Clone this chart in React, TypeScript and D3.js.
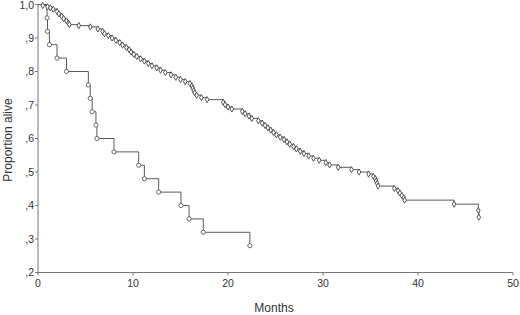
import React from "react";
import * as d3 from "d3";

const yTicks = [0.2, 0.3, 0.4, 0.5, 0.6, 0.7, 0.8, 0.9, 1.0];
const xTicks = [0, 10, 20, 30, 40, 50];

// Large group: event times (months) and survival after each event
const upperTimes = [
  0.5, 1.0, 1.3, 1.6, 2.0, 2.2, 2.5, 2.7, 3.0, 3.2, 3.3,
  4.3, 5.5, 6.3, 6.8, 7.0, 7.4, 7.8, 8.2, 8.6, 8.9, 9.3, 9.6, 9.8,
  10.1, 10.4, 10.8, 11.2, 11.6, 12.0, 12.5, 12.9, 13.4, 14.0, 14.5, 15.0, 15.5, 16.0,
  16.2, 16.3, 16.4, 16.5, 16.7, 17.2, 17.8,
  19.5, 19.7, 20.0, 20.4,
  21.5, 21.8, 22.2, 22.5, 23.2, 23.6, 23.9, 24.2, 24.5, 24.8, 25.1, 25.5, 25.9, 26.2, 26.5, 26.9,
  27.2, 27.6, 28.0, 28.5, 29.0, 29.6, 30.3, 30.7, 31.6, 33.0, 33.8, 34.8,
  35.3, 35.5, 35.6, 35.7, 35.8,
  37.5, 37.9, 38.1, 38.3, 38.5, 38.6,
  43.8, 46.35, 46.4,
];
const upperSurv = [
  0.997, 0.993, 0.99, 0.986, 0.979, 0.972, 0.965, 0.958, 0.951, 0.944, 0.94,
  0.937, 0.933, 0.927, 0.92, 0.913, 0.907, 0.9, 0.893, 0.886, 0.879, 0.872, 0.865, 0.858,
  0.851, 0.845, 0.838, 0.831, 0.824, 0.817, 0.811, 0.804, 0.797, 0.79, 0.783, 0.776, 0.77, 0.764,
  0.757, 0.75, 0.743, 0.736, 0.729, 0.722, 0.716,
  0.708, 0.701, 0.694, 0.688,
  0.681, 0.674, 0.667, 0.66, 0.653, 0.646, 0.639, 0.632, 0.625, 0.618, 0.611, 0.604, 0.597, 0.59, 0.583, 0.576,
  0.569, 0.562, 0.555, 0.548, 0.541, 0.535, 0.528, 0.521, 0.514, 0.507, 0.5, 0.494,
  0.487, 0.48, 0.473, 0.466, 0.458,
  0.451, 0.444, 0.437, 0.43, 0.423, 0.416,
  0.404, 0.385, 0.365,
];

// Small group
const lowerTimes = [0.95, 1.0, 1.2, 2.0, 3.0, 5.3, 5.5, 5.7, 6.1, 6.2, 8.0, 10.6, 11.2, 12.7, 15.05, 15.9, 17.4, 22.3];
const lowerSurv = [0.96, 0.92, 0.88, 0.84, 0.8, 0.76, 0.72, 0.68, 0.64, 0.6, 0.56, 0.52, 0.48, 0.44, 0.4, 0.36, 0.32, 0.28];

const W = 520;
const H = 315;
const x0 = 38, x1 = 513;
const yTop = 4.5, yBot = 272.5;

function stepPath(times: number[], surv: number[], x: d3.ScaleLinear<number, number>, y: d3.ScaleLinear<number, number>) {
  let d = `M${x(0)},${y(1)}`;
  times.forEach((t, i) => {
    d += `H${x(t)}V${y(surv[i])}`;
  });
  return d;
}

export default function App() {
  const x = d3.scaleLinear().domain([0, 50]).range([x0, x1]);
  const y = d3.scaleLinear().domain([0.2, 1.0]).range([yBot, yTop]);
  const fmtY = (v: number) => (v >= 1 ? "1,0" : "," + Math.round(v * 10));
  const diamond = d3.symbol().type(d3.symbolDiamond).size(11)() as string;
  const gray = "#5a5a5a";
  const axisCol = "#777";
  const textCol = "#333";
  const font = "Liberation Sans, Arial, sans-serif";

  return (
    <svg width={W} height={H} style={{ position: "absolute", left: 0, top: 0, background: "#fff" }} fontFamily={font}>
      {/* axes */}
      <line x1={x0} x2={x0} y1={yTop} y2={yBot} stroke={axisCol} strokeWidth={1} />
      <line x1={x0} x2={x1} y1={yBot} y2={yBot} stroke={axisCol} strokeWidth={1} />
      {yTicks.map((v) => (
        <g key={"y" + v}>
          <line x1={x0 - 3} x2={x0} y1={y(v)} y2={y(v)} stroke={axisCol} />
          <text x={x0 - 4} y={v >= 1 ? y(v) + 1.2 : y(v)} dy="0.35em" textAnchor="end" fontSize={10.5} fill={textCol}>
            {fmtY(v)}
          </text>
        </g>
      ))}
      {xTicks.map((v) => (
        <g key={"x" + v}>
          <line x1={x(v)} x2={x(v)} y1={yBot} y2={yBot + 3} stroke={axisCol} />
          <text x={x(v)} y={yBot + 14} textAnchor="middle" fontSize={10.5} fill={textCol}>
            {v}
          </text>
        </g>
      ))}
      <text x={274} y={312} textAnchor="middle" fontSize={12} fill={textCol}>
        Months
      </text>
      <text transform={`translate(12,140) rotate(-90)`} textAnchor="middle" fontSize={12} fill={textCol}>
        Proportion alive
      </text>

      {/* curves */}
      <path d={stepPath(lowerTimes, lowerSurv, x, y)} fill="none" stroke={gray} strokeWidth={1} />
      <path d={stepPath(upperTimes, upperSurv, x, y)} fill="none" stroke={gray} strokeWidth={1} />
      {lowerTimes.map((t, i) => (
        <circle key={"l" + i} cx={x(t)} cy={y(lowerSurv[i])} r={2.1} fill="#fff" stroke={gray} strokeWidth={0.9} />
      ))}
      {upperTimes.map((t, i) => (
        <path key={"u" + i} d={diamond} transform={`translate(${x(t)},${y(upperSurv[i])})`} fill="#fff" stroke="#444" strokeWidth={0.9} />
      ))}
    </svg>
  );
}
